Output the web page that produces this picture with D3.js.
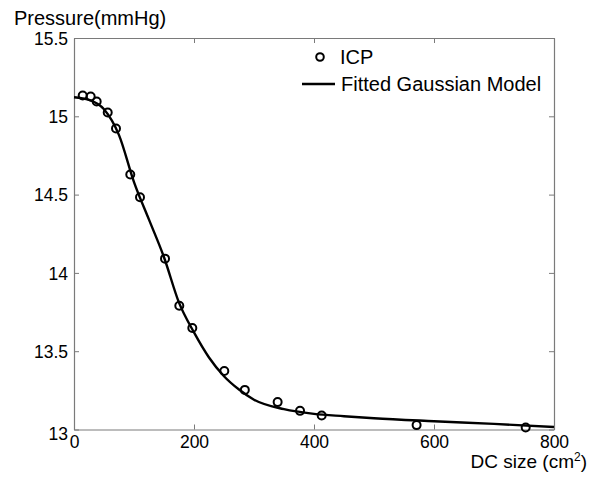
<!DOCTYPE html>
<html>
<head>
<meta charset="utf-8">
<script src="https://cdn.jsdelivr.net/npm/d3@7"></script>
<style>
  body { margin: 0; background: #fff; }
  svg text { font-family: "Liberation Sans", Arial, sans-serif; fill: #000; }
</style>
</head>
<body>
<div id="chart"></div>
<script>
// measured ICP points: DC size (cm^2) vs pressure (mmHg)
const icpSize = [14.5, 27.8, 37.8, 56.2, 70, 93.8, 110, 151.7, 175.5, 197.2, 250.5, 284.7, 339.4, 376.7, 412.8, 571, 752.8];
const icpPressure = [15.133, 15.127, 15.095, 15.024, 14.922, 14.628, 14.483, 14.091, 13.790, 13.648, 13.373, 13.253, 13.175, 13.119, 13.089, 13.028, 13.013];

// fitted gaussian model curve
const fitSize = [0, 25, 50, 75, 100, 125, 150, 175, 200, 225, 250, 275, 300, 350, 400, 450, 500, 600, 700, 800];
const fitPressure = [15.122, 15.105, 15.045, 14.88, 14.58, 14.34, 14.10, 13.81, 13.62, 13.46, 13.34, 13.255, 13.19, 13.13, 13.10, 13.085, 13.072, 13.053, 13.036, 13.016];

const xTicks = [0, 200, 400, 600, 800];
const yTicks = [13, 13.5, 14, 14.5, 15, 15.5];

const W = 595, H = 477;
const margin = { top: 38, right: 41, bottom: 47.5, left: 74 };
const width = W - margin.left - margin.right;
const height = H - margin.top - margin.bottom;
const axisColor = "#7a7a7a";

const svg = d3.select("#chart").append("svg")
  .attr("width", W)
  .attr("height", H);

const g = svg.append("g").attr("transform", `translate(${margin.left},${margin.top})`);

const x = d3.scaleLinear().domain([0, 800]).range([0, width]);
const y = d3.scaleLinear().domain([13, 15.5]).range([height, 0]);

// axes with inward ticks, mirrored top/right like a matlab box
const xAxis = d3.axisBottom(x).tickValues(xTicks).tickSize(-5).tickSizeOuter(0).tickPadding(6).tickFormat(d3.format("d"));
const yAxis = d3.axisLeft(y).tickValues(yTicks).tickSize(-5).tickSizeOuter(0).tickPadding(6).tickFormat(d => d);

const gx = g.append("g").attr("transform", `translate(0,${height})`).call(xAxis);
const gy = g.append("g").call(yAxis);
const gTop = g.append("g").call(d3.axisTop(x).tickValues(xTicks).tickSize(-5).tickSizeOuter(0).tickFormat(""));
const gRight = g.append("g").attr("transform", `translate(${width},0)`)
  .call(d3.axisRight(y).tickValues(yTicks).tickSize(-5).tickSizeOuter(0).tickFormat(""));

[gx, gy, gTop, gRight].forEach(a => {
  a.selectAll(".domain").attr("stroke", axisColor).attr("stroke-width", 1.2);
  a.selectAll(".tick line").attr("stroke", axisColor);
});
gx.selectAll(".tick text").style("font-size", "17.5px").attr("dy", "0.71em");
gy.selectAll(".tick text").style("font-size", "17.5px").attr("dy", "0.36em");
gy.selectAll(".tick text").filter(d => d === 13).attr("dy", "0.55em");

// fitted curve
const line = d3.line()
  .x((d, i) => x(fitSize[i]))
  .y(d => y(d))
  .curve(d3.curveMonotoneX);

g.append("path")
  .datum(fitPressure)
  .attr("d", line)
  .attr("fill", "none")
  .attr("stroke", "#000")
  .attr("stroke-width", 2.4);

// ICP markers
g.selectAll(".icp")
  .data(icpPressure)
  .enter()
  .append("circle")
  .attr("class", "icp")
  .attr("cx", (d, i) => x(icpSize[i]))
  .attr("cy", d => y(d))
  .attr("r", 4)
  .attr("fill", "none")
  .attr("stroke", "#000")
  .attr("stroke-width", 2);

// legend
const legend = svg.append("g");
legend.append("circle")
  .attr("cx", 320).attr("cy", 57).attr("r", 3.8)
  .attr("fill", "none").attr("stroke", "#000").attr("stroke-width", 2);
legend.append("text").attr("x", 340).attr("y", 63.5).style("font-size", "20px").text("ICP");
legend.append("line")
  .attr("x1", 302).attr("x2", 335).attr("y1", 84).attr("y2", 84)
  .attr("stroke", "#000").attr("stroke-width", 2.4);
legend.append("text").attr("x", 341).attr("y", 90.5).style("font-size", "20px").text("Fitted Gaussian Model");

// axis titles
svg.append("text").attr("x", 14).attr("y", 25).style("font-size", "20px").text("Pressure(mmHg)");
const xl = svg.append("text").attr("x", 587).attr("y", 468).attr("text-anchor", "end").style("font-size", "19px");
xl.append("tspan").text("DC size (cm");
xl.append("tspan").attr("dy", "-7").style("font-size", "12px").text("2");
xl.append("tspan").attr("dy", "7").text(")");
</script>
</body>
</html>
